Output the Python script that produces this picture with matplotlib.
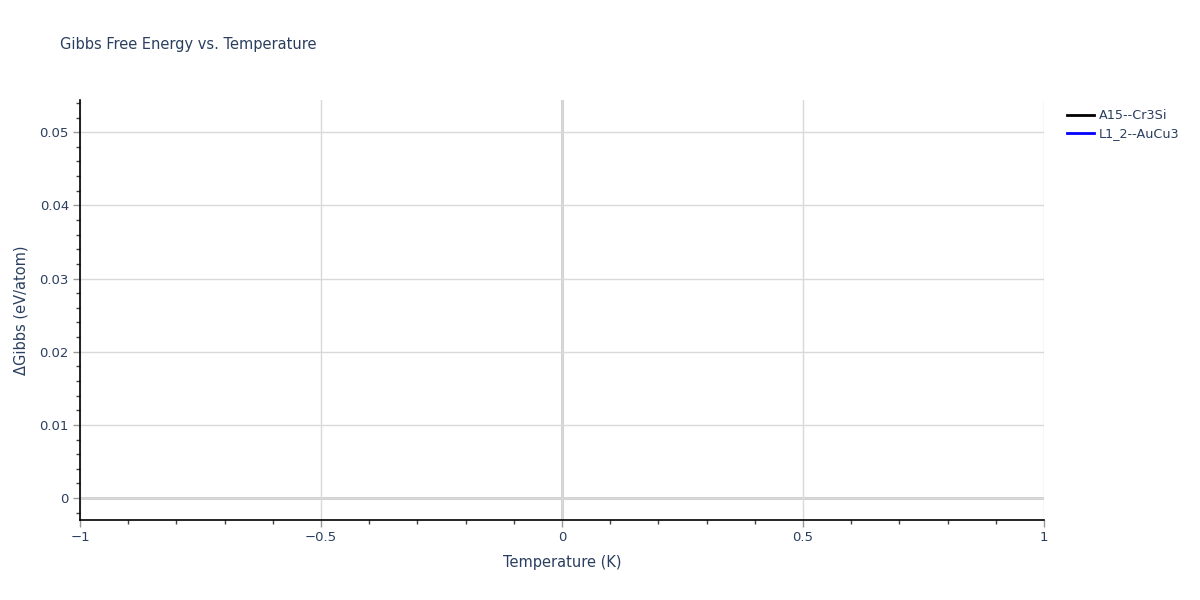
import matplotlib.pyplot as plt
from matplotlib.ticker import MultipleLocator

# Data: both phases have only a single point at T = 0
temperature = [0.0]
a15_gibbs = [0.0]
l12_gibbs = [0.0]

series_names = ['A15--Cr3Si', 'L1_2--AuCu3']
series_colors = ['black', 'blue']

text_color = '#2a3f5f'
grid_color = '#d9d9d9'

plt.rcParams['font.family'] = ['DejaVu Sans']

fig = plt.figure(figsize=(12, 6), dpi=100)
ax = fig.add_axes([80 / 1200, 80 / 600, 964 / 1200, 420 / 600])

ax.plot(temperature, a15_gibbs, color=series_colors[0], lw=2, label=series_names[0])
ax.plot(temperature, l12_gibbs, color=series_colors[1], lw=2, label=series_names[1])

ax.set_xlim(-1, 1)
ax.set_ylim(-0.003, 0.0544)

ax.xaxis.set_major_locator(MultipleLocator(0.5))
ax.xaxis.set_minor_locator(MultipleLocator(0.1))
ax.yaxis.set_major_locator(MultipleLocator(0.01))
ax.yaxis.set_minor_locator(MultipleLocator(0.002))

ax.grid(True, which='major', color=grid_color, lw=1)
ax.axhline(0, color='#cccccc', lw=2, zorder=1)
ax.axvline(0, color='#cccccc', lw=2, zorder=1)

for side in ['top', 'right']:
    ax.spines[side].set_visible(False)
for side in ['left', 'bottom']:
    ax.spines[side].set_color('black')
    ax.spines[side].set_linewidth(1.2)

ax.tick_params(which='major', direction='out', length=5, width=1,
               color='#999999', labelcolor=text_color, labelsize=9.5, pad=3)
ax.tick_params(which='minor', direction='out', length=3, width=1, color='#444444')

def fmt_x(v, pos):
    if abs(v) < 1e-9:
        return '0'
    return ('%g' % v).replace('-', '\u2212')

def fmt_y(v, pos):
    if abs(v) < 1e-9:
        return '0'
    return '%.2f' % v

ax.xaxis.set_major_formatter(plt.FuncFormatter(fmt_x))
ax.yaxis.set_major_formatter(plt.FuncFormatter(fmt_y))

ax.set_xlabel('Temperature (K)', color=text_color, fontsize=10.5, labelpad=8)
ax.set_ylabel('\u0394Gibbs (eV/atom)', color=text_color, fontsize=10.5, labelpad=8)

fig.text(60 / 1200, 1 - 45 / 600, 'Gibbs Free Energy vs. Temperature',
         color=text_color, fontsize=10.5, va='center', ha='left')

leg = fig.legend(loc='upper left', bbox_to_anchor=(1062 / 1200, 1 - 104 / 600),
                 frameon=False, fontsize=9.2, handlelength=2.1, labelspacing=0.4,
                 borderaxespad=0, handletextpad=0.4)
for t in leg.get_texts():
    t.set_color(text_color)

fig.savefig('out.png', dpi=100)
